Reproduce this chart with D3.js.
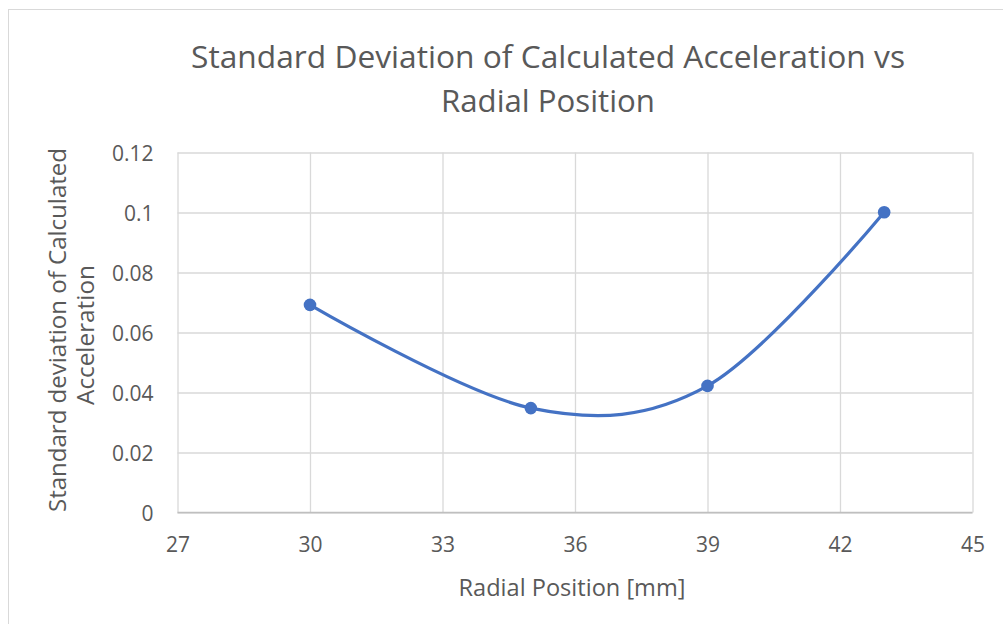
<!DOCTYPE html>
<html>
<head>
<meta charset="utf-8">
<script src="https://cdn.jsdelivr.net/npm/d3@7"></script>
<style>
  html, body { margin: 0; padding: 0; background: #fff; }
  svg { display: block; font-family: "Open Sans", "Noto Sans", sans-serif; }
</style>
</head>
<body>
<svg id="chart" width="1003" height="624"></svg>
<script>
// Radial position of each measurement [mm]
const radialPosition = [30, 35, 39, 43];
// Standard deviation of the calculated acceleration at each position
const stdDevAcceleration = [0.0692, 0.0348, 0.0422, 0.1001];
// Axis ticks
const xTicks = [27, 30, 33, 36, 39, 42, 45];
const yTicks = [0, 0.02, 0.04, 0.06, 0.08, 0.1, 0.12];

const titleLines = ["Standard Deviation of Calculated Acceleration vs", "Radial Position"];
const xAxisTitle = "Radial Position [mm]";
const yAxisTitleLines = ["Standard deviation of Calculated", "Acceleration"];

const svg = d3.select("#chart");
const fontFamily = '"Open Sans", "Noto Sans", sans-serif';
const textColor = "#595959";
const gridColor = "#d9d9d9";
const seriesColor = "#4472C4";

const plot = { left: 177.5, right: 972.5, top: 152.5, bottom: 512.5 };

const x = d3.scaleLinear().domain([27, 45]).range([plot.left, plot.right]);
const y = d3.scaleLinear().domain([0, 0.12]).range([plot.bottom, plot.top]);

// Chart frame
svg.append("rect")
  .attr("x", 8.5).attr("y", 9.5)
  .attr("width", 1003).attr("height", 630)
  .attr("fill", "none").attr("stroke", gridColor).attr("stroke-width", 1);

// Vertical gridlines and x tick labels
const xAxis = d3.axisBottom(x).tickValues(xTicks).tickSize(-(plot.bottom - plot.top)).tickFormat(d3.format("d"));
const gx = svg.append("g").attr("transform", `translate(0,${plot.bottom})`).call(xAxis)
  .attr("font-family", fontFamily).attr("font-size", 21);
gx.select(".domain").remove();
gx.selectAll(".tick line").attr("stroke", gridColor).attr("stroke-width", 1.3);
gx.selectAll(".tick text").attr("fill", textColor)
  .attr("y", 39).attr("dy", 0);

// Horizontal gridlines and y tick labels
const yAxis = d3.axisLeft(y).tickValues(yTicks).tickSize(-(plot.right - plot.left)).tickFormat(d => d === 0 ? "0" : String(+d.toFixed(2)));
const gy = svg.append("g").attr("transform", `translate(${plot.left},0)`).call(yAxis)
  .attr("font-family", fontFamily).attr("font-size", 21);
gy.select(".domain").remove();
gy.selectAll(".tick line").attr("stroke", gridColor).attr("stroke-width", 1.3);
gy.selectAll(".tick text").attr("fill", textColor)
  .attr("x", -24).attr("dy", "0.36em");

// Horizontal axis line
svg.append("line")
  .attr("x1", plot.left).attr("x2", plot.right)
  .attr("y1", y(0)).attr("y2", y(0))
  .attr("stroke", "#bfbfbf").attr("stroke-width", 1.3);

// Title
svg.append("g").selectAll("text").data(titleLines).join("text")
  .attr("x", 548).attr("y", (d, i) => 68 + i * 44)
  .attr("text-anchor", "middle")
  .attr("fill", textColor).attr("font-size", 31.5)
  .attr("textLength", (d, i) => i === 0 ? 714 : 214)
  .attr("lengthAdjust", "spacingAndGlyphs")
  .text(d => d);

// X axis title
svg.append("text")
  .attr("x", 572).attr("y", 596)
  .attr("text-anchor", "middle")
  .attr("fill", textColor).attr("font-size", 23.5)
  .attr("textLength", 227).attr("lengthAdjust", "spacingAndGlyphs")
  .text(xAxisTitle);

// Y axis title (two rotated lines)
svg.append("g").selectAll("text").data(yAxisTitleLines).join("text")
  .attr("transform", (d, i) => `translate(${[66, 94][i]},${[330, 335][i]}) rotate(-90)`)
  .attr("text-anchor", "middle")
  .attr("fill", textColor).attr("font-size", 23.5)
  .attr("textLength", (d, i) => i === 0 ? 364 : 140)
  .attr("lengthAdjust", "spacingAndGlyphs")
  .text(d => d);

// Smoothed series line
const data = radialPosition.map((r, i) => ({ r, s: stdDevAcceleration[i] }));
const line = d3.line()
  .x(d => x(d.r)).y(d => y(d.s))
  .curve(d3.curveCardinal.tension(0));

svg.append("path")
  .datum(data)
  .attr("d", line)
  .attr("fill", "none")
  .attr("stroke", seriesColor)
  .attr("stroke-width", 3.2)
  .attr("stroke-linecap", "round");

svg.append("g").selectAll("circle").data(data).join("circle")
  .attr("cx", d => x(d.r)).attr("cy", d => y(d.s))
  .attr("r", 6.3)
  .attr("fill", seriesColor);
</script>
</body>
</html>
